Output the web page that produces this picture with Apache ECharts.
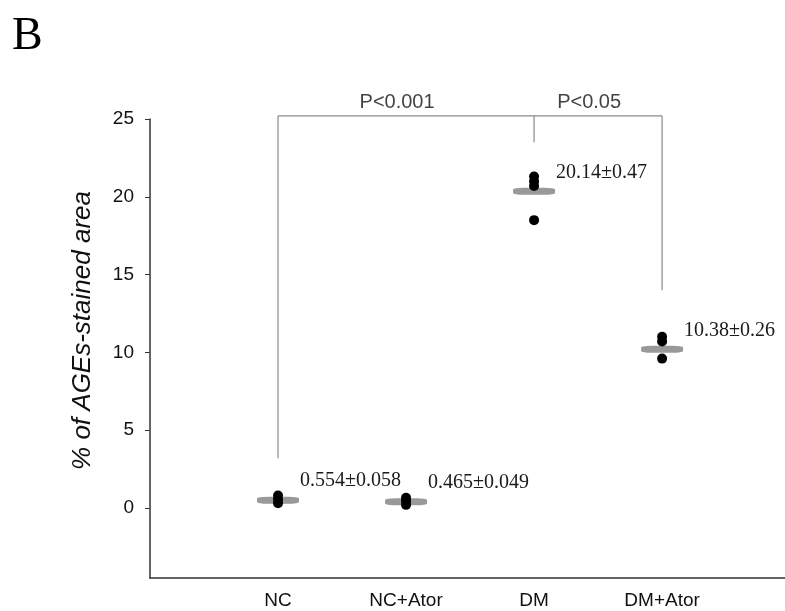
<!DOCTYPE html>
<html>
<head>
<meta charset="utf-8">
<script src="https://cdn.jsdelivr.net/npm/echarts@6/dist/echarts.min.js"></script>
<style>
  html, body { margin: 0; padding: 0; background: #fff; }
  #chart { width: 785px; height: 611px; }
</style>
</head>
<body>
<div id="chart"></div>
<script>
// groups and their x position on the value axis
const groups = ['NC', 'NC+Ator', 'DM', 'DM+Ator'];
const groupX = [1, 2, 3, 4];
// level of the grey mean bar
const means = [0.5, 0.4, 20.35, 10.2];
const meanLabels = ['0.554\u00b10.058', '0.465\u00b10.049', '20.14\u00b10.47', '10.38\u00b10.26'];
// single animals (black dots)
const ncPoints = [0.3, 0.55, 0.8];
const ncAtorPoints = [0.2, 0.45, 0.65];
const dmPoints = [21.3, 21.0, 20.7, 18.5];
const dmAtorPoints = [11.0, 10.7, 9.6];
const yTicks = [0, 5, 10, 15, 20, 25];
// significance bracket
const bracketTop = 25.2;
const bracketLegs = [[1, 3.2], [3, 23.5], [4, 14]];
const comparisons = [[1, 3, 'P<0.001'], [3, 4, 'P<0.05']];

const allPoints = [ncPoints, ncAtorPoints, dmPoints, dmAtorPoints];
const dotData = [];
allPoints.forEach((arr, i) => arr.forEach(v => dotData.push([groupX[i], v])));

const bracketSeries = [];
// top line from first to last leg
bracketSeries.push({
  type: 'line', clip: false, symbol: 'none', silent: true,
  lineStyle: { color: '#8a8a8a', width: 1.2 },
  data: [[bracketLegs[0][0], bracketTop], [bracketLegs[bracketLegs.length - 1][0], bracketTop]]
});
bracketLegs.forEach(l => {
  bracketSeries.push({
    type: 'line', clip: false, symbol: 'none', silent: true,
    lineStyle: { color: '#8a8a8a', width: 1.2 },
    data: [[l[0], bracketTop], [l[0], l[1]]]
  });
});

const chart = echarts.init(document.getElementById('chart'));
chart.setOption({
  animation: false,
  title: {
    text: 'B', left: 7, top: 9,
    textStyle: { fontFamily: 'Liberation Serif', fontSize: 46, fontWeight: 'normal', color: '#000' }
  },
  grid: { left: 150, right: 0, top: 119, bottom: 33 },
  xAxis: {
    type: 'value', min: 0, max: 4.96,
    axisLine: { show: true, onZero: false, lineStyle: { color: '#333', width: 1.5 } },
    axisTick: { show: false },
    splitLine: { show: false },
    axisLabel: {
      customValues: groupX,
      formatter: v => groups[v - 1],
      fontFamily: 'Liberation Sans', fontSize: 19, color: '#111', margin: 13
    }
  },
  yAxis: {
    type: 'value', min: -4.5, max: 25,
    name: '% of AGEs-stained area',
    nameLocation: 'middle', nameGap: 54,
    nameTextStyle: {
      fontFamily: 'Liberation Sans', fontStyle: 'italic', fontSize: 26, color: '#111',
      padding: [0, 0, 0, 36]
    },
    axisLine: { show: true, lineStyle: { color: '#333', width: 1.5 } },
    axisTick: { show: true, customValues: yTicks, length: 5, lineStyle: { color: '#333' } },
    splitLine: { show: false },
    axisLabel: {
      customValues: yTicks,
      fontFamily: 'Liberation Sans', fontSize: 19, color: '#111', margin: 16
    }
  },
  series: [
    ...bracketSeries,
    {
      type: 'scatter', symbolSize: 1, silent: true, clip: false,
      itemStyle: { color: 'rgba(0,0,0,0)' },
      data: comparisons.map(c => [(c[0] + c[1]) / 2 - 0.07, bracketTop]),
      label: {
        show: true, position: 'top', distance: 3,
        formatter: p => comparisons[p.dataIndex][2],
        fontFamily: 'Liberation Sans', fontSize: 20, color: '#111'
      }
    },
    {
      type: 'scatter', symbol: 'roundRect', symbolSize: [42, 7], clip: false,
      itemStyle: { color: '#999', opacity: 1 },
      data: means.map((m, i) => [groupX[i], m]),
      label: {
        show: true, position: 'right', distance: 0, offset: [1, -19],
        formatter: p => meanLabels[p.dataIndex],
        fontFamily: 'Liberation Serif', fontSize: 20, color: '#1a1a1a'
      },
      z: 2
    },
    {
      type: 'scatter', symbol: 'circle', symbolSize: 10, clip: false,
      itemStyle: { color: '#000', opacity: 1 },
      data: dotData,
      z: 3
    }
  ]
});
</script>
</body>
</html>
